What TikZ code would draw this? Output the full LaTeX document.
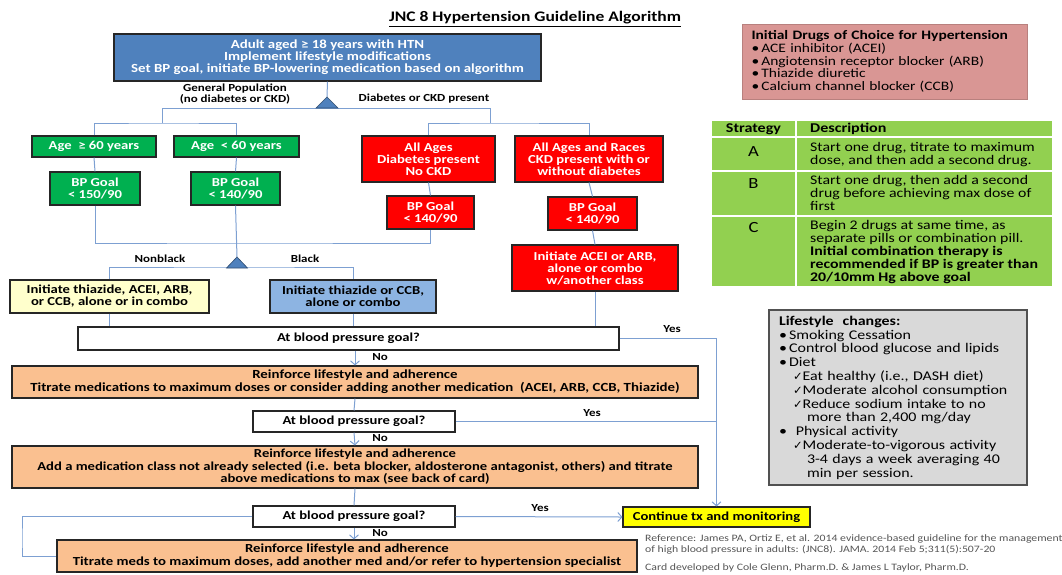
\documentclass[tikz,border=0pt]{standalone}
\usepackage{fontspec}
\setmainfont{Carlito}[FakeStretch=1.2]
\newfontfamily\checkfont{DejaVu Sans}
\usetikzlibrary{positioning,arrows.meta}

\definecolor{hblue}{RGB}{79,129,189}
\definecolor{boxedge}{RGB}{38,38,38}
\definecolor{ggreen}{RGB}{0,176,80}
\definecolor{rred}{RGB}{255,0,0}
\definecolor{lyellow}{RGB}{255,255,204}
\definecolor{lblue}{RGB}{141,180,226}
\definecolor{orangefill}{RGB}{250,192,144}
\definecolor{cyellow}{RGB}{255,255,0}
\definecolor{drugpink}{RGB}{217,150,148}
\definecolor{tgreen}{RGB}{146,208,80}
\definecolor{lgray}{RGB}{217,217,217}
\definecolor{linkblue}{RGB}{125,160,210}
\definecolor{reftext}{RGB}{85,85,85}

\newcommand{\chkmark}{{\checkfont\fontsize{11.5}{12}\selectfont ✓}}

\begin{document}
\begin{tikzpicture}[x=1pt, y=-1pt, >={Straight Barb[length=4pt,width=9pt]},
  every node/.style={font=\bfseries\fontsize{12.2}{12}\selectfont}]
\tikzset{
  box/.style={draw=boxedge, line width=1.1pt, align=center, inner sep=1pt},
  bluebox/.style={box, fill=hblue, text=white},
  greenbox/.style={box, fill=ggreen, text=white},
  redbox/.style={box, fill=rred, text=white},
  askbox/.style={box, fill=white, minimum width=202pt, minimum height=21pt},
  stepbox/.style={box, fill=orangefill},
  link/.style={draw=linkblue, line width=1pt},
  tag/.style={font=\bfseries\fontsize{10.8}{11}\selectfont, align=center, inner sep=0pt},
  split/.style={fill=hblue, draw=hblue!60!black, line width=0.6pt},
  cell/.style={fill=tgreen, draw=white, line width=2pt},
  celltext/.style={font=\fontsize{13.2}{13}\selectfont, align=left, inner sep=0pt, anchor=north west},
  reftag/.style={font=\fontsize{9.8}{11}\selectfont, text=reftext, align=left, inner sep=0pt, anchor=west},
}
\useasboundingbox (0,0) rectangle (1062,574);

\node[font=\bfseries\fontsize{14.6}{16}\selectfont] (title) at (535,19)
  {\underline{JNC 8 Hypertension Guideline Algorithm}};

% top of the algorithm
\node[bluebox, minimum width=427pt, minimum height=47pt, font=\bfseries\fontsize{12.4}{12}\selectfont] (adult) at (327.5,57.5)
  {Adult aged ≥ 18 years with HTN\\Implement lifestyle modifications\\Set BP goal, initiate BP-lowering medication based on algorithm};
\coordinate (split1) at (327,97);
\coordinate (gen) at (162,108);
\coordinate (dia) at (490,108);
\coordinate (genfork) at (162,123);
\coordinate (diafork) at (490,123);
\node[tag] (gp) at (235,94) {General Population\\(no diabetes or CKD)};
\node[tag] (dcp) at (424,99) {Diabetes or CKD present};

% general population
\node[greenbox, minimum width=124pt, minimum height=21pt] (age1) at (94,146.5) {Age\ \ ≥ 60 years};
\node[greenbox, minimum width=125pt, minimum height=21pt] (age2) at (236.5,146.5) {Age\ \ < 60 years};
\node[greenbox, minimum width=90pt, minimum height=33pt] (goal1) at (95,188.5) {BP Goal\\< 150/90};
\node[greenbox, minimum width=89pt, minimum height=33pt] (goal2) at (235.5,188.5) {BP Goal\\< 140/90};

% diabetes or CKD
\node[redbox, minimum width=133pt, minimum height=46pt] (dm) at (428.5,159) {All Ages\\Diabetes present\\No CKD};
\node[redbox, minimum width=148pt, minimum height=46pt] (ckd) at (589,159) {All Ages and Races\\CKD present with or\\without diabetes};
\node[redbox, minimum width=87pt, minimum height=33pt] (dmgoal) at (430.5,212.5) {BP Goal\\< 140/90};
\node[redbox, minimum width=89pt, minimum height=33pt] (ckdgoal) at (592.5,213.5) {BP Goal\\< 140/90};
\node[redbox, minimum width=166pt, minimum height=46pt] (acei) at (595,268) {Initiate ACEI or ARB,\\alone or combo\\w/another class};

% race split
\coordinate (racefork) at (237,243);
\coordinate (split2) at (237,257);
\coordinate (split2b) at (237,267);
\node[tag] (nonblack) at (160,259) {Nonblack};
\node[tag] (black) at (305,259) {Black};
\node[box, fill=lyellow, minimum width=199pt, minimum height=33pt] (thz) at (109.5,296.5)
  {Initiate thiazide, ACEI, ARB,\\or CCB, alone or in combo};
\node[box, fill=lblue, minimum width=166pt, minimum height=33pt] (cbb) at (353,296.5)
  {Initiate thiazide or CCB,\\alone or combo};

% follow-up
\node[box, fill=white, minimum width=541pt, minimum height=23pt] (ask1) at (348.5,338.5) {At blood pressure goal?};
\node[stepbox, minimum width=686pt, minimum height=32pt, font=\bfseries\fontsize{12.4}{12.8}\selectfont] (step1) at (355,382)
  {Reinforce lifestyle and adherence\\Titrate medications to maximum doses or consider adding another medication\ \ (ACEI, ARB, CCB, Thiazide)};
\node[askbox] (ask2) at (354,421.5) {At blood pressure goal?};
\node[stepbox, minimum width=686pt, minimum height=42pt, font=\bfseries\fontsize{12.2}{12.5}\selectfont] (step2) at (355,467)
  {Reinforce lifestyle and adherence\\Add a medication class not already selected (i.e. beta blocker, aldosterone antagonist, others) and titrate\\above medications to max (see back of card)};
\node[askbox] (ask3) at (354,516.5) {At blood pressure goal?};
\node[stepbox, minimum width=580pt, minimum height=32pt, font=\bfseries\fontsize{12.3}{12.8}\selectfont] (step3) at (347,556)
  {Reinforce lifestyle and adherence\\Titrate meds to maximum doses, add another med and/or refer to hypertension specialist};
\node[box, fill=cyellow, minimum width=187pt, minimum height=20pt] (cont) at (716.5,517) {Continue tx and monitoring};
\coordinate (loop) at (22,540);
\node[tag] (no1) at (380,357) {No};
\node[tag] (no2) at (380,438) {No};
\node[tag] (no3) at (380,533) {No};
\node[tag] (yes1) at (672,329) {Yes};
\node[tag] (yes2) at (592,413) {Yes};
\node[tag] (yes3) at (540,508) {Yes};

% connectors
\draw[link] (adult.south) -- (split1);
\draw[link] (gen) -- (dia);
\draw[link] (gen) -- (genfork);
\draw[link] (dia) -- (diafork);
\draw[link] (age1.north) |- (genfork) -| (age2.north);
\draw[link] (dm.north) |- (diafork) -| (ckd.north);
\draw[link] (age1.south) -- (goal1.north);
\draw[link] (age2.south) -- (goal2.north);
\draw[link] (dm.south) -- (dmgoal.north);
\draw[link] (ckd.south) -- (ckdgoal.north);
\draw[link] (ckdgoal.south) -- (acei.north);
\draw[link] (goal1.south) |- (racefork) -| (dmgoal.south);
\draw[link] (goal2.south) -- (split2);
\draw[link] (thz.north) |- (split2b) -| (cbb.north);
\filldraw[split] (316,108) -- (split1) -- (338,108) -- cycle;
\filldraw[split] (226.5,268) -- (split2) -- (247.5,268) -- cycle;
\draw[link] (thz.south) -- (thz.south |- ask1.north);
\draw[link] (cbb.south) -- (cbb.south |- ask1.north);
\draw[link] (acei.south) -- (acei.south |- ask1.north);
\draw[link,->] (step1.north |- ask1.south) -- (step1.north);
\draw[link] (step1.south) -- (ask2.north);
\draw[link,->] (ask2.south) -- (step2.north);
\draw[link] (step2.south) -- (ask3.north);
\draw[link,->] (ask3.south) -- (ask3.south |- step3.north);
\draw[link,->] (ask1.east) -| (cont.north);
\draw[link] (ask2.east) -- (ask2.east -| cont.north);
\draw[link,->] (ask3.east) -- (cont.west);
\draw[link] (ask3.west) -| (loop) |- (step3.west);

% drugs of choice
\node[draw=drugpink!85!black, line width=0.6pt, fill=drugpink, minimum width=285pt, minimum height=75pt,
  text width=266pt, inner xsep=9.5pt, align=left, font=\fontsize{12.9}{12.7}\selectfont] (drugs) at (884.5,61.5)
  {\textbf{Initial Drugs of Choice for Hypertension}\\
   •\,ACE inhibitor (ACEI)\\
   •\,Angiotensin receptor blocker (ARB)\\
   •\,Thiazide diuretic\\
   •\,Calcium channel blocker (CCB)};

% strategy table
\foreach \ya/\yb in {120/137,137/171,171/216,216/287} {
  \filldraw[cell] (711,\ya) rectangle (796,\yb);
  \filldraw[cell] (796,\ya) rectangle (1053,\yb);
}
\node[font=\bfseries\fontsize{13.4}{13}\selectfont] (strat) at (753.5,129) {Strategy};
\node[font=\bfseries\fontsize{13.4}{13}\selectfont, anchor=west, inner sep=0pt] (desc) at (810,129) {Description};
\node[font=\fontsize{15.5}{15}\selectfont] (sa) at (753.5,152) {A};
\node[font=\fontsize{15.5}{15}\selectfont] (sb) at (753.5,184) {B};
\node[font=\fontsize{15.5}{15}\selectfont] (sc) at (753.5,228) {C};
\node[celltext] (da) at (810,142) {Start one drug, titrate to maximum\\dose, and then add a second drug.};
\node[celltext] (db) at (810,175) {Start one drug, then add a second\\drug before achieving max dose of\\first};
\node[celltext] (dc) at (810,220) {Begin 2 drugs at same time, as\\separate pills or combination pill.\\
  \textbf{Initial combination therapy is}\\\textbf{recommended if BP is greater than}\\\textbf{20/10mm Hg above goal}};

% lifestyle
\node[draw=boxedge!80, line width=1.2pt, fill=lgray, minimum width=258pt, minimum height=175pt,
  text width=238pt, inner xsep=10pt, align=left, font=\fontsize{13.3}{13.8}\selectfont] (life) at (898,397.5)
  {\textbf{Lifestyle\ \ changes:}\\
   •\,Smoking Cessation\\
   •\,Control blood glucose and lipids\\
   •\,Diet\\
   \hspace*{14pt}\chkmark Eat healthy (i.e., DASH diet)\\
   \hspace*{14pt}\chkmark Moderate alcohol consumption\\
   \hspace*{14pt}\chkmark Reduce sodium intake to no\\
   \hspace*{28pt}more than 2,400 mg/day\\
   •\ \ Physical activity\\
   \hspace*{14pt}\chkmark Moderate-to-vigorous activity\\
   \hspace*{28pt}3-4 days a week averaging 40\\
   \hspace*{28pt}min per session.};

% reference
\node[reftag] (ref) at (645,544) {Reference: James PA, Ortiz E, et al. 2014 evidence-based guideline for the management\\of high blood pressure in adults: (JNC8). JAMA. 2014 Feb 5;311(5):507-20};
\node[reftag] (card) at (645,568) {Card developed by Cole Glenn, Pharm.D. \& James L Taylor, Pharm.D.};

\end{tikzpicture}
\end{document}
